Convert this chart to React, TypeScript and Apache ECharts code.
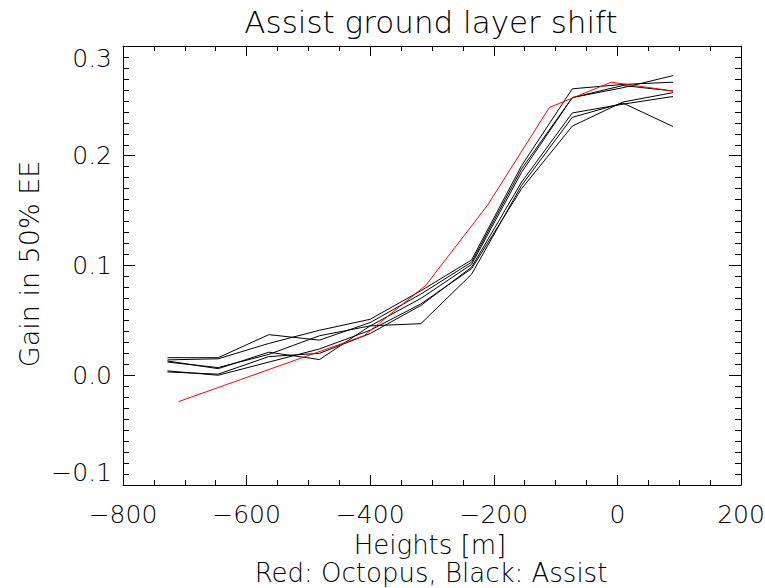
import React, { useEffect, useRef } from "react";
import * as echarts from "echarts";

// Heights (m) at which each run was evaluated
const heightsAssist = [-728, -646, -564, -482, -400, -318, -236, -155, -73, 9, 90];
const heightsOctopus = [-710, -610, -510, -410, -310, -210, -110, -10, 90];

// Gain in 50% encircled energy, Octopus simulation (red)
const octopusGain = [-0.024, -0.004, 0.016, 0.036, 0.082, 0.155, 0.244, 0.267, 0.259];

// Gain in 50% encircled energy, Assist runs (black)
const assistRunA = [0.016, 0.016, 0.037, 0.032, 0.048, 0.074, 0.103, 0.188, 0.253, 0.262, 0.273];
const assistRunB = [0.014, 0.015, 0.029, 0.041, 0.051, 0.077, 0.105, 0.191, 0.261, 0.265, 0.267];
const assistRunC = [0.012, 0.007, 0.019, 0.036, 0.045, 0.070, 0.101, 0.185, 0.253, 0.264, 0.259];
const assistRunD = [0.004, 0.000, 0.012, 0.024, 0.041, 0.065, 0.097, 0.170, 0.227, 0.249, 0.2575];
const assistRunE = [0.003, 0.001, 0.017, 0.020, 0.038, 0.0636, 0.0985, 0.176, 0.239, 0.247, 0.254];
const assistRunF = [0.013, 0.006, 0.021, 0.0143, 0.045, 0.047, 0.092, 0.173, 0.235, 0.248, 0.2266];
const assistRuns = [assistRunA, assistRunB, assistRunC, assistRunD, assistRunE, assistRunF];

// Axis tick labels
const xTickValues = [-800, -600, -400, -200, 0, 200];
const xTickLabels = ["\u2212800", "\u2212600", "\u2212400", "\u2212200", "0", "200"];
const yTickValues = [-0.1, 0.0, 0.1, 0.2, 0.3];
const yTickLabels = ["\u22120.1", "0.0", "0.1", "0.2", "0.3"];

const FONT = "DejaVu Sans";

function lookup(values: number[], labels: string[], v: number): string {
  for (let i = 0; i < values.length; i++) {
    if (Math.abs(values[i] - v) < 1e-6) return labels[i];
  }
  return "";
}

function pairs(xs: number[], ys: number[]): number[][] {
  return xs.map((x, i) => [x, ys[i]]);
}

export default function App() {
  const ref = useRef<HTMLDivElement>(null);

  useEffect(() => {
    if (!ref.current) return;
    const chart = echarts.init(ref.current, null, { renderer: "svg" });

    const axisLine = { show: true, onZero: false, lineStyle: { color: "#000", width: 1 } };
    const xBase = {
      type: "value" as const,
      min: -800,
      max: 200,
      interval: 200,
      splitLine: { show: false },
      axisLine,
      axisTick: { show: true, inside: true, length: 10, lineStyle: { color: "#000" } },
      minorTick: { show: true, splitNumber: 4, length: 5, lineStyle: { color: "#000" } },
    };
    const yBase = {
      type: "value" as const,
      min: -0.1,
      max: 0.3,
      interval: 0.1,
      splitLine: { show: false },
      axisLine,
      axisTick: { show: true, inside: true, length: 12, lineStyle: { color: "#000" } },
      minorTick: { show: true, splitNumber: 10, length: 6, lineStyle: { color: "#000" } },
    };

    const blackSeries = assistRuns.map((run, i) => ({
      name: "Assist " + (i + 1),
      type: "line" as const,
      data: pairs(heightsAssist, run),
      showSymbol: false,
      symbol: "none",
      lineStyle: { color: "#000", width: 1 },
      z: 2,
    }));

    const textStyle = (size: number) => ({
      fill: "#000",
      font: `200 ${size}px "${FONT}"`,
      textAlign: "center",
      textVerticalAlign: "middle",
    });

    chart.setOption({
      animation: false,
      backgroundColor: "#fff",
      grid: { left: 123, right: 24, top: 46, bottom: 103, containLabel: false, outerBoundsMode: "none" },
      xAxis: [
        {
          ...xBase,
          position: "bottom",
          axisLabel: {
            show: true,
            margin: 17,
            fontSize: 25,
            fontFamily: FONT,
            fontWeight: 200,
            color: "#000",
            formatter: (v: number) => lookup(xTickValues, xTickLabels, v),
          },
        },
        { ...xBase, position: "top", axisLabel: { show: false } },
      ],
      yAxis: [
        {
          ...yBase,
          position: "left",
          axisLabel: {
            show: true,
            margin: 11,
            fontSize: 25,
            fontFamily: FONT,
            fontWeight: 200,
            color: "#000",
            verticalAlignMaxLabel: "top",
            verticalAlignMinLabel: "bottom",
            formatter: (v: number) => lookup(yTickValues, yTickLabels, v),
          },
        },
        { ...yBase, position: "right", axisLabel: { show: false } },
      ],
      series: [
        ...blackSeries,
        {
          name: "Octopus",
          type: "line",
          data: pairs(heightsOctopus, octopusGain),
          showSymbol: false,
          symbol: "none",
          lineStyle: { color: "#ff0000", width: 1 },
          z: 3,
        },
      ],
      graphic: [
        {
          type: "text",
          x: 431,
          y: 22,
          style: { text: "Assist ground layer shift", ...textStyle(31) },
        },
        {
          type: "text",
          x: 430,
          y: 545,
          style: { text: "Heights [m]", ...textStyle(26) },
        },
        {
          type: "text",
          x: 431,
          y: 573,
          style: { text: "Red: Octopus, Black: Assist", ...textStyle(26) },
        },
        {
          type: "text",
          x: 29,
          y: 264,
          rotation: Math.PI / 2,
          style: { text: "Gain in 50% EE", ...textStyle(27) },
        },
      ],
    });

    return () => {
      chart.dispose();
    };
  }, []);

  return (
    <div
      ref={ref}
      style={{ position: "absolute", left: 0, top: 0, width: 765, height: 588, background: "#fff" }}
    />
  );
}
